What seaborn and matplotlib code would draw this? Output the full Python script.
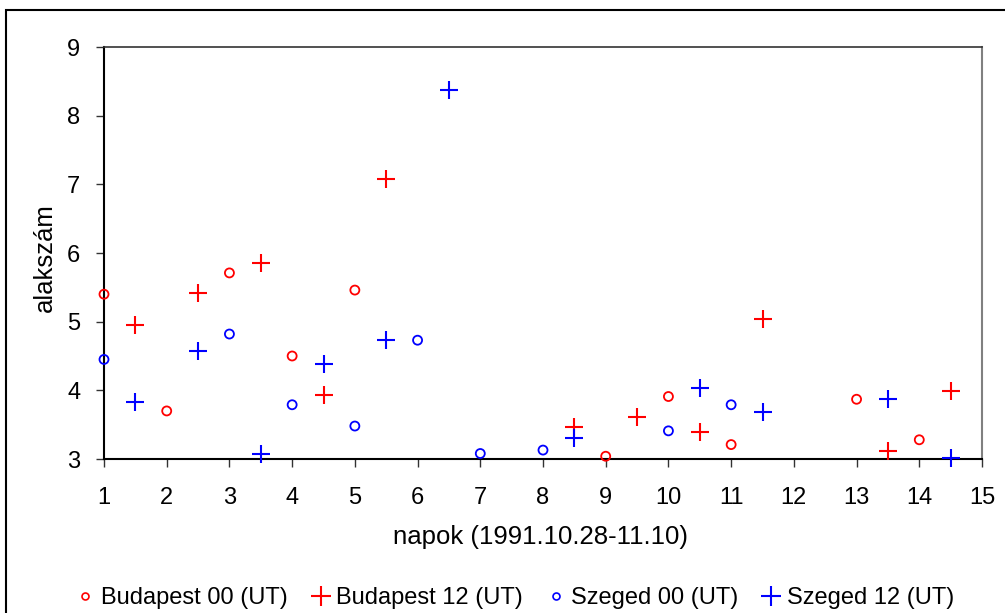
import matplotlib
matplotlib.use("Agg")
import matplotlib.pyplot as plt
import seaborn as sns
import pandas as pd
from matplotlib.lines import Line2D
from matplotlib.patches import Rectangle

# ---- data ----
bp00_x = [1, 2, 3, 4, 5, 9, 10, 11, 13, 14]
bp00_y = [5.40, 3.70, 5.71, 4.50, 5.46, 3.04, 3.91, 3.21, 3.87, 3.28]

bp12_x = [1.5, 2.5, 3.5, 4.5, 5.5, 8.5, 9.5, 10.5, 11.5, 13.5, 14.5]
bp12_y = [4.95, 5.42, 5.86, 3.93, 7.08, 3.47, 3.61, 3.40, 5.04, 3.12, 3.99]

sz00_x = [1, 3, 4, 5, 6, 7, 8, 10, 11]
sz00_y = [4.45, 4.82, 3.79, 3.48, 4.73, 3.08, 3.13, 3.41, 3.79]

sz12_x = [1.5, 2.5, 3.5, 4.5, 5.5, 6.5, 8.5, 10.5, 11.5, 13.5, 14.5]
sz12_y = [3.83, 4.58, 3.07, 4.38, 4.74, 8.37, 3.30, 4.04, 3.69, 3.87, 3.01]

labels = ["Budapest 00 (UT)", "Budapest 12 (UT)", "Szeged 00 (UT)", "Szeged 12 (UT)"]
x_ticks = list(range(1, 16))
y_ticks = [3, 4, 5, 6, 7, 8, 9]

sns.set_style("white")
plt.rcParams["font.family"] = ["Liberation Sans", "DejaVu Sans"]
plt.rcParams["text.color"] = "black"
plt.rcParams["axes.labelcolor"] = "black"

fig = plt.figure(figsize=(10.05, 6.13), dpi=100)
ax = fig.add_axes([104 / 1005, 1 - 459 / 613, (982 - 104) / 1005, (459 - 47) / 613])

series = [
    (bp00_x, bp00_y, "o", "#ff0000"),
    (bp12_x, bp12_y, "+", "#ff0000"),
    (sz00_x, sz00_y, "o", "#0000ff"),
    (sz12_x, sz12_y, "+", "#0000ff"),
]
for (xs, ys, m, c), lab in zip(series, labels):
    df = pd.DataFrame({"x": xs, "y": ys})
    if m == "o":
        sns.scatterplot(data=df, x="x", y="y", ax=ax, marker="o", color=c,
                        facecolors="none", edgecolor=c, s=42, linewidth=1.3,
                        clip_on=False, zorder=3)
    else:
        sns.scatterplot(data=df, x="x", y="y", ax=ax, marker="+", color=c,
                        edgecolor=c, s=170, linewidth=1.5, clip_on=False, zorder=3)

ax.set_xlim(1, 15)
ax.set_ylim(3, 9)
ax.set_xticks(x_ticks)
ax.set_yticks(y_ticks)
ax.tick_params(axis="both", which="major", direction="out", length=6, width=1,
               color="#333333", labelcolor="black", labelsize=17, left=True, bottom=True)
ax.tick_params(axis="x", pad=14)
ax.tick_params(axis="y", pad=11)
ax.set_xlabel("napok (1991.10.28-11.10)", fontsize=18.5)
ax.set_ylabel("alakszám", fontsize=18.5)
ax.xaxis.label.set_va("center")
ax.yaxis.label.set_va("center")
ax.xaxis.set_label_coords(0.4977, (459 - 537) / 412)
ax.yaxis.set_label_coords((45 - 104) / 878, 0.49)

for s in ["left", "bottom"]:
    ax.spines[s].set_color("black")
    ax.spines[s].set_linewidth(1.5)
ax.spines["top"].set_color("#333333")
ax.spines["top"].set_linewidth(1.2)
ax.spines["right"].set_color("#808080")
ax.spines["right"].set_linewidth(1.5)

handles = []
for (xs, ys, m, c), lab in zip(series, labels):
    if m == "o":
        handles.append(Line2D([], [], linestyle="none", marker="o", markersize=5,
                              markerfacecolor="none", markeredgecolor=c, markeredgewidth=1.2, label=lab))
    else:
        handles.append(Line2D([], [], linestyle="none", marker="+", markersize=15,
                              markeredgecolor=c, markeredgewidth=1.5, label=lab))
fig.legend(handles=handles, loc="center", bbox_to_anchor=(515 / 1005, 1 - 598 / 613),
           ncol=4, frameon=False, fontsize=17, handlelength=0.8, handletextpad=0.25,
           columnspacing=1.0, borderpad=0)

fig.patches.append(Rectangle((6 / 1005, -0.05), 1.1, 1 - 10 / 613 + 0.05,
                             transform=fig.transFigure, fill=False, edgecolor="black",
                             linewidth=1.5, figure=fig))

fig.savefig("out.png", dpi=100)
